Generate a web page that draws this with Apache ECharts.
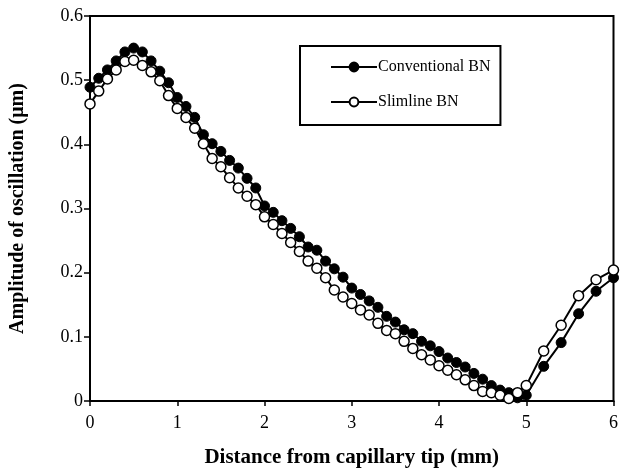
<!DOCTYPE html>
<html>
<head>
<meta charset="utf-8">
<script src="https://cdn.jsdelivr.net/npm/echarts@6/dist/echarts.min.js"></script>
<style>
  html, body { margin: 0; padding: 0; background: #fff; }
  #chart { width: 621px; height: 473px; }
</style>
</head>
<body>
<div id="chart"></div>
<script>
// distance from capillary tip (mm)
var conventionalX = [0, 0.1, 0.2, 0.3, 0.4, 0.5, 0.6, 0.7, 0.8, 0.9, 1.0, 1.1, 1.2, 1.3, 1.4, 1.5, 1.6, 1.7, 1.8, 1.9,
  2.0, 2.1, 2.2, 2.3, 2.4, 2.5, 2.6, 2.7, 2.8, 2.9, 3.0, 3.1, 3.2, 3.3, 3.4, 3.5, 3.6, 3.7, 3.8, 3.9,
  4.0, 4.1, 4.2, 4.3, 4.4, 4.5, 4.6, 4.7, 4.8, 4.9, 5.0, 5.2, 5.4, 5.6, 5.8, 6.0];
// amplitude (um)
var conventionalY = [0.489, 0.503, 0.516, 0.530, 0.544, 0.550, 0.544, 0.530, 0.514, 0.496, 0.473, 0.459, 0.442, 0.415, 0.401, 0.389, 0.375, 0.363, 0.347, 0.332,
  0.304, 0.294, 0.281, 0.269, 0.256, 0.240, 0.235, 0.218, 0.206, 0.193, 0.176, 0.166, 0.156, 0.146, 0.132, 0.123, 0.111, 0.105, 0.093, 0.086,
  0.077, 0.067, 0.060, 0.053, 0.043, 0.034, 0.024, 0.017, 0.013, 0.005, 0.009, 0.054, 0.091, 0.136, 0.171, 0.192];

var slimlineX = [0, 0.1, 0.2, 0.3, 0.4, 0.5, 0.6, 0.7, 0.8, 0.9, 1.0, 1.1, 1.2, 1.3, 1.4, 1.5, 1.6, 1.7, 1.8, 1.9,
  2.0, 2.1, 2.2, 2.3, 2.4, 2.5, 2.6, 2.7, 2.8, 2.9, 3.0, 3.1, 3.2, 3.3, 3.4, 3.5, 3.6, 3.7, 3.8, 3.9,
  4.0, 4.1, 4.2, 4.3, 4.4, 4.5, 4.6, 4.7, 4.8, 4.9, 5.0, 5.2, 5.4, 5.6, 5.8, 6.0];
var slimlineY = [0.463, 0.483, 0.502, 0.516, 0.529, 0.531, 0.523, 0.513, 0.499, 0.476, 0.456, 0.442, 0.425, 0.401, 0.378, 0.365, 0.348, 0.332, 0.319, 0.306,
  0.287, 0.275, 0.261, 0.247, 0.233, 0.218, 0.207, 0.192, 0.173, 0.162, 0.152, 0.142, 0.134, 0.121, 0.110, 0.105, 0.093, 0.082, 0.072, 0.064,
  0.055, 0.048, 0.041, 0.033, 0.024, 0.015, 0.013, 0.009, 0.004, 0.013, 0.024, 0.078, 0.118, 0.164, 0.189, 0.204];

var seriesNames = ['Conventional BN', 'Slimline BN'];

function pairs(xs, ys) {
  var out = [];
  for (var i = 0; i < xs.length; i++) out.push([xs[i], ys[i]]);
  return out;
}

var serif = 'Liberation Serif, Times New Roman, serif';
var myChart = echarts.init(document.getElementById('chart'), null, { renderer: 'canvas' });

var option = {
  backgroundColor: '#fff',
  animation: false,
  grid: {
    left: 89,
    right: 6,
    top: 16,
    bottom: 68,
    show: true,
    borderColor: '#000',
    borderWidth: 2
  },
  legend: {
    orient: 'vertical',
    left: 300,
    top: 46,
    itemWidth: 46,
    itemHeight: 11,
    itemGap: 19,
    padding: [13, 10, 15, 30],
    borderColor: '#000',
    borderWidth: 2,
    textStyle: { fontFamily: serif, fontSize: 16, color: '#000', padding: [0, 0, 0, -4] },
    data: seriesNames
  },
  xAxis: {
    type: 'value',
    min: 0,
    max: 6,
    interval: 1,
    name: 'Distance from capillary tip (mm)',
    nameLocation: 'middle',
    nameGap: 46,
    nameTextStyle: { fontFamily: serif, fontSize: 21, fontWeight: 'bold', color: '#000' },
    axisLine: { lineStyle: { color: '#000', width: 2 } },
    axisTick: { inside: false, length: 5, lineStyle: { color: '#000', width: 1.5 } },
    axisLabel: { fontFamily: serif, fontSize: 18, color: '#000', margin: 13 },
    splitLine: { show: false }
  },
  yAxis: {
    type: 'value',
    min: 0,
    max: 0.6,
    interval: 0.1,
    name: 'Amplitude of oscillation (\u03bcm)',
    nameLocation: 'middle',
    nameGap: 62,
    nameRotate: 90,
    nameTextStyle: { fontFamily: serif, fontSize: 20, fontWeight: 'bold', color: '#000' },
    axisLine: { show: true, lineStyle: { color: '#000', width: 2 } },
    axisTick: { show: true, inside: false, length: 6, lineStyle: { color: '#000', width: 1.5 } },
    axisLabel: {
      fontFamily: serif, fontSize: 18, color: '#000', margin: 7,
      formatter: function (v) { return v === 0 ? '0' : v.toFixed(1); }
    },
    splitLine: { show: false }
  },
  series: [
    {
      name: seriesNames[0],
      type: 'line',
      data: pairs(conventionalX, conventionalY),
      clip: false,
      symbol: 'circle',
      symbolSize: 10,
      lineStyle: { color: '#000', width: 2 },
      itemStyle: { color: '#000', borderColor: '#000', borderWidth: 1 }
    },
    {
      name: seriesNames[1],
      type: 'line',
      data: pairs(slimlineX, slimlineY),
      clip: false,
      symbol: 'circle',
      symbolSize: 10,
      lineStyle: { color: '#000', width: 2 },
      itemStyle: { color: '#fff', borderColor: '#000', borderWidth: 1.5 }
    }
  ]
};
myChart.setOption(option);
</script>
</body>
</html>
